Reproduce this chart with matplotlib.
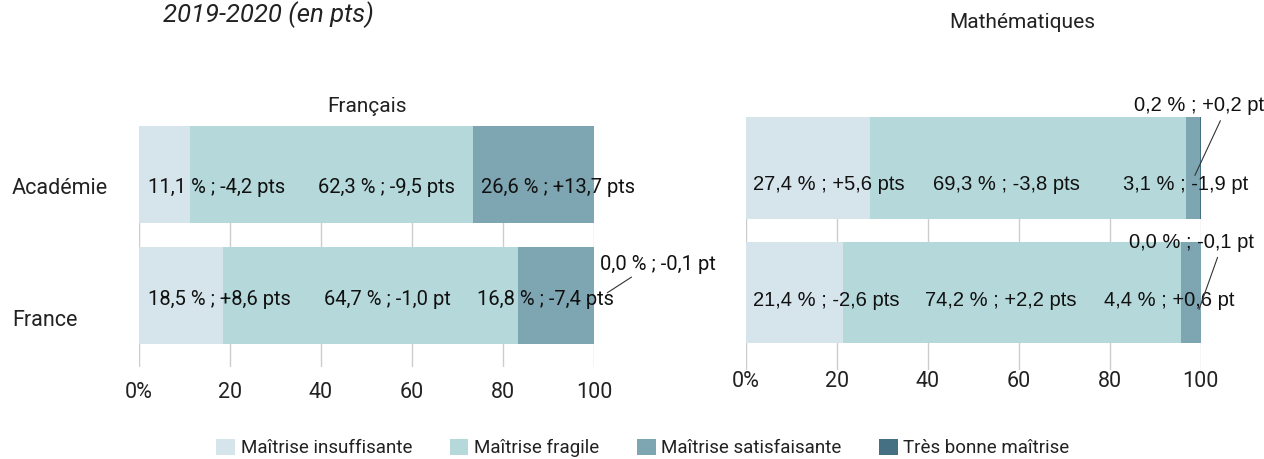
import matplotlib.pyplot as plt
from matplotlib.patches import Patch

narrow = ['Roboto', 'DejaVu Sans']
arial = ['Liberation Sans', 'DejaVu Sans']
plt.rcParams['font.family'] = narrow

rows = ['Académie', 'France']
levels = ['Maîtrise insuffisante', 'Maîtrise fragile', 'Maîtrise satisfaisante', 'Très bonne maîtrise']
colors = ['#d6e4ec', '#b5d8da', '#7ea6b2', '#456f82']

# part of pupils per level (%), rows = Académie, France
fr_vals = [[11.1, 62.3, 26.6, 0.0],
           [18.5, 64.7, 16.8, 0.0]]
fr_labels = [['11,1 % ; -4,2 pts', '62,3 % ; -9,5 pts', '26,6 % ; +13,7 pts', None],
             ['18,5 % ; +8,6 pts', '64,7 % ; -1,0 pt', '16,8 % ; -7,4 pts', '0,0 % ; -0,1 pt']]
ma_vals = [[27.4, 69.3, 3.1, 0.2],
           [21.4, 74.2, 4.4, 0.0]]
ma_labels = [['27,4 % ; +5,6 pts', '69,3 % ; -3,8 pts', '3,1 % ; -1,9 pt', '0,2 % ; +0,2 pt'],
             ['21,4 % ; -2,6 pts', '74,2 % ; +2,2 pts', '4,4 % ; +0,6 pt', '0,0 % ; -0,1 pt']]

ticks = [0, 20, 40, 60, 80, 100]
tick_labels = ['0%', '20', '40', '60', '80', '100']

# where the labels start (x in %), one list per row
fr_lab_x = [[2.0, 39.3, 75.2], [2.0, 40.7, 74.3]]
ma_lab_x = [[1.5, 41.1, 82.9], [1.5, 39.3, 78.7]]

fig = plt.figure(figsize=(12.64, 4.59), dpi=100)
ax1 = fig.add_axes([0.110, 0.2004, 0.360, 0.525])
ax2 = fig.add_axes([0.590, 0.194, 0.360, 0.551])


def draw(ax, vals, height):
    for i, row in enumerate(vals):
        left = 0
        for j, v in enumerate(row):
            ax.barh(i, v, left=left, height=height, color=colors[j], zorder=2)
            left += v
    ax.set_xlim(0, 100)
    ax.set_xticks(ticks)
    ax.set_xticklabels(tick_labels)
    ax.set_yticks([])
    ax.grid(axis='x', color='#cccccc', lw=1, zorder=0)
    ax.tick_params(axis='x', length=0, labelsize=15.5, colors='#222222')
    for s in ax.spines.values():
        s.set_visible(False)


draw(ax1, fr_vals, 0.80)
ax1.set_ylim(1.587, -0.4)
ax1.tick_params(axis='x', pad=11)
draw(ax2, ma_vals, 0.815)
ax2.set_ylim(1.627, -0.41)
ax2.tick_params(axis='x', pad=1)

# data labels, Français
fr_lab_y = [0.11, 0.03]
for i in range(2):
    for j in range(3):
        ax1.text(fr_lab_x[i][j], i + fr_lab_y[i], fr_labels[i][j], fontsize=14.5,
                 va='center', ha='left', color='#111111', zorder=3)
ax1.annotate(fr_labels[1][3], xy=(102.9, 0.975), xytext=(101.3, 0.744),
             fontsize=14.5, va='center', ha='left', color='#111111',
             annotation_clip=False,
             arrowprops=dict(arrowstyle='-', color='#333333', lw=0.8,
                             shrinkA=0, shrinkB=0, relpos=(0.34, 0.12)))

# data labels, Mathématiques
ma_lab_y = [0.135, 0.065]
for i in range(2):
    for j in range(3):
        ax2.text(ma_lab_x[i][j], i + ma_lab_y[i], ma_labels[i][j], fontsize=14.5,
                 va='center', ha='left', color='#111111', zorder=3, family=arial)
ax2.annotate(ma_labels[0][3], xy=(98.7, 0.06), xytext=(114.0, -0.5),
             fontsize=14.5, va='center', ha='right', color='#111111', family=arial,
             annotation_clip=False,
             arrowprops=dict(arrowstyle='-', color='#333333', lw=0.8,
                             shrinkA=2, shrinkB=0, relpos=(0.68, 0.0)))
ax2.annotate(ma_labels[1][3], xy=(99.6, 1.14), xytext=(111.8, 0.6),
             fontsize=14.5, va='center', ha='right', color='#111111', family=arial,
             annotation_clip=False,
             arrowprops=dict(arrowstyle='-', color='#333333', lw=0.8,
                             shrinkA=2, shrinkB=0, relpos=(0.72, 0.0)))

# row names
fig.text(12 / 1264, 1 - 188 / 459, rows[0], fontsize=15.5, va='center', ha='left', color='#222222')
fig.text(12 / 1264, 1 - 320 / 459, rows[1], fontsize=15.5, va='center', ha='left', color='#222222')

# titles
fig.text(163 / 1264, 1 - 15 / 459, '2019-2020 (en pts)', fontsize=18.5, style='italic',
         va='center', ha='left', color='#222222')
fig.text(367 / 1264, 1 - 107 / 459, 'Français', fontsize=15, va='center', ha='center', color='#222222')
fig.text(1022 / 1264, 1 - 23 / 459, 'Mathématiques', fontsize=15, va='center', ha='center', color='#222222')

handles = [Patch(facecolor=c, edgecolor='none') for c in colors]
fig.legend(handles, levels, loc='center', bbox_to_anchor=(643 / 1264, 1 - 448 / 459),
           ncol=4, frameon=False, fontsize=13.5, handlelength=1.0, handleheight=1.0,
           handletextpad=0.3, columnspacing=2.0, labelcolor='#222222')

fig.savefig('out.png', dpi=100)
